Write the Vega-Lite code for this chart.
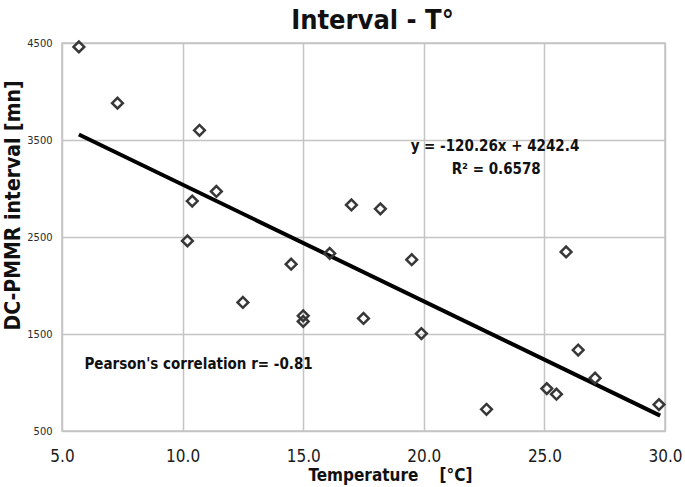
{
  "$schema": "https://vega.github.io/schema/vega-lite/v6.json",
  "width": 603,
  "height": 388,
  "autosize": {"type": "none"},
  "padding": {"left": 62, "top": 43, "right": 20, "bottom": 56},
  "background": "white",
  "title": {
    "text": "Interval - T°",
    "font": "DejaVu Sans Condensed, sans-serif",
    "fontSize": 27,
    "fontWeight": "bold",
    "color": "#111111",
    "anchor": "middle",
    "dx": 9,
    "offset": 2
  },
  "config": {
    "view": {"stroke": "#c4c4c4", "strokeWidth": 1.5},
    "font": "DejaVu Sans Condensed, sans-serif",
    "axis": {
      "grid": true,
      "gridColor": "#c4c4c4",
      "gridWidth": 1.5,
      "ticks": false,
      "domain": false,
      "labelFlush": false
    }
  },
  "datasets": {
    "observations": [
      {"temperature": 5.7, "interval": 4460},
      {"temperature": 7.3, "interval": 3880},
      {"temperature": 10.7, "interval": 3600},
      {"temperature": 11.4, "interval": 2970},
      {"temperature": 10.4, "interval": 2870},
      {"temperature": 10.2, "interval": 2460},
      {"temperature": 17.0, "interval": 2830},
      {"temperature": 18.2, "interval": 2790},
      {"temperature": 16.1, "interval": 2330},
      {"temperature": 14.5, "interval": 2220},
      {"temperature": 12.5, "interval": 1825},
      {"temperature": 15.0, "interval": 1688},
      {"temperature": 15.0, "interval": 1629},
      {"temperature": 17.5, "interval": 1660},
      {"temperature": 19.5, "interval": 2266},
      {"temperature": 19.9, "interval": 1505},
      {"temperature": 25.9, "interval": 2346},
      {"temperature": 26.4, "interval": 1334},
      {"temperature": 27.1, "interval": 1044},
      {"temperature": 25.1, "interval": 937},
      {"temperature": 25.5, "interval": 879},
      {"temperature": 22.6, "interval": 724},
      {"temperature": 29.75, "interval": 772}
    ],
    "trend": [
      {"temperature": 5.7, "interval": 3556.9},
      {"temperature": 29.8, "interval": 658.7}
    ]
  },
  "layer": [
    {
      "data": {"name": "trend"},
      "mark": {"type": "line", "color": "#000000", "strokeWidth": 4, "strokeCap": "butt"},
      "encoding": {
        "x": {
          "field": "temperature",
          "type": "quantitative",
          "scale": {"domain": [5, 30], "nice": false},
          "axis": {
            "values": [5, 10, 15, 20, 25, 30],
            "format": ".1f",
            "labelFontSize": 17,
            "labelColor": "#1a1a1a",
            "labelPadding": 17,
            "title": "Temperature\u00a0\u00a0\u00a0\u00a0[°C]",
            "titleFontSize": 17,
            "titleFontWeight": "bold",
            "titleColor": "#111111",
            "titlePadding": 3,
            "titleX": 328
          }
        },
        "y": {
          "field": "interval",
          "type": "quantitative",
          "scale": {"domain": [500, 4500], "nice": false},
          "axis": {
            "values": [500, 1500, 2500, 3500, 4500],
            "format": "d",
            "labelFontSize": 11,
            "labelColor": "#2a2a2a",
            "labelPadding": 10,
            "title": "DC-PMMR interval [mn]",
            "titleFontSize": 21,
            "titleFontWeight": "bold",
            "titleColor": "#111111",
            "titleBaseline": "middle",
            "titleX": -49,
            "titleY": 162
          }
        }
      }
    },
    {
      "data": {"name": "observations"},
      "mark": {"type": "point", "shape": "diamond", "filled": false, "size": 115, "stroke": "#383838", "strokeWidth": 2.5, "opacity": 1},
      "encoding": {
        "x": {"field": "temperature", "type": "quantitative"},
        "y": {"field": "interval", "type": "quantitative"}
      }
    },
    {
      "data": {"values": [{"label": "y = -120.26x + 4242.4"}]},
      "mark": {"type": "text", "fontSize": 15, "fontWeight": "bold", "color": "#111111", "align": "center", "baseline": "middle"},
      "encoding": {
        "x": {"datum": 22.95, "type": "quantitative"},
        "y": {"datum": 3433, "type": "quantitative"},
        "text": {"field": "label"}
      }
    },
    {
      "data": {"values": [{"label": "R² = 0.6578"}]},
      "mark": {"type": "text", "fontSize": 15, "fontWeight": "bold", "color": "#111111", "align": "center", "baseline": "middle"},
      "encoding": {
        "x": {"datum": 23.0, "type": "quantitative"},
        "y": {"datum": 3206, "type": "quantitative"},
        "text": {"field": "label"}
      }
    },
    {
      "data": {"values": [{"label": "Pearson's correlation r= -0.81"}]},
      "mark": {"type": "text", "fontSize": 15, "fontWeight": "bold", "color": "#111111", "align": "left", "baseline": "middle"},
      "encoding": {
        "x": {"datum": 5.93, "type": "quantitative"},
        "y": {"datum": 1192, "type": "quantitative"},
        "text": {"field": "label"}
      }
    }
  ]
}
